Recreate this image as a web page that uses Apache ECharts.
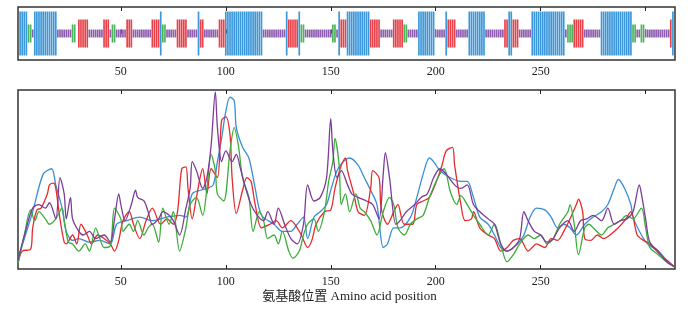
<!DOCTYPE html>
<html>
<head>
<meta charset="utf-8">
<script src="https://cdn.jsdelivr.net/npm/echarts@6/dist/echarts.min.js"></script>
<style>
  html, body { margin: 0; padding: 0; background: #fff; }
  #main { width: 699px; height: 315px; }
</style>
</head>
<body>
<div id="main"></div>
<script>
// 二级结构片段 [起始, 结束, 类型]  H=螺旋 E=折叠 T=转角 C=无规卷曲
const ssSegments = [
  [2, 5, 'H'], [6, 7, 'T'], [8, 8, 'C'], [9, 19, 'H'], [20, 26, 'C'], [27, 28, 'T'],
  [30, 34, 'E'], [35, 41, 'C'], [42, 44, 'E'], [45, 45, 'C'], [46, 47, 'T'], [48, 52, 'C'],
  [53, 55, 'E'], [56, 64, 'C'], [65, 68, 'E'], [69, 69, 'H'], [70, 71, 'T'], [72, 76, 'C'],
  [77, 81, 'E'], [82, 86, 'C'], [87, 87, 'H'], [88, 89, 'E'], [90, 96, 'C'], [97, 99, 'E'],
  [100, 117, 'H'], [118, 128, 'C'], [129, 129, 'H'], [130, 134, 'E'], [135, 135, 'H'],
  [136, 137, 'T'], [138, 150, 'C'], [151, 152, 'T'], [153, 153, 'C'], [154, 154, 'H'],
  [155, 157, 'E'], [158, 168, 'H'], [169, 173, 'E'], [174, 179, 'C'], [180, 184, 'E'],
  [185, 186, 'T'], [187, 191, 'C'], [192, 199, 'H'], [200, 204, 'C'], [205, 205, 'H'],
  [206, 209, 'E'], [210, 215, 'C'], [216, 223, 'H'], [224, 232, 'C'], [233, 234, 'E'],
  [235, 236, 'H'], [237, 239, 'E'], [240, 245, 'C'], [246, 261, 'H'], [262, 262, 'C'],
  [263, 265, 'T'], [266, 270, 'E'], [271, 278, 'C'], [279, 293, 'H'], [294, 295, 'T'],
  [296, 297, 'C'], [298, 299, 'T'], [300, 311, 'C'], [312, 312, 'E'], [313, 313, 'H']
];

// 刻度
const tickValues = [50, 100, 150, 200, 250, 300];
const labelValues = [50, 100, 150, 200, 250];

// 四条曲线 [氨基酸位置, 数值]
const blueLine = [[1,6],[8,32],[13,53],[17,56],[19,47],[22,34],[24,21],[27,16],[30,17],[35,15],[40,16],[45,14],[48,25],[53,27],[59,29],[65,27],[72,29],[78,30],[81,29],[84,42],[88,44],[91,45],[94,47],[96,60],[98,73],[100,88],[102,96],[104,94],[105,79],[108,68],[111,62],[114,45],[117,30],[123,25],[127,21],[131,21],[134,25],[137,29],[139,17],[142,29],[145,32],[148,36],[150,44],[153,55],[156,60],[159,62],[163,58],[166,51],[169,44],[172,36],[175,12],[177,14],[180,23],[183,23],[188,29],[191,40],[194,53],[197,62],[199,60],[202,55],[207,51],[212,49],[215,49],[218,40],[221,29],[225,25],[228,19],[231,12],[234,10],[239,14],[242,19],[245,29],[248,34],[252,33],[255,29],[258,23],[261,25],[264,23],[267,19],[271,25],[275,29],[279,32],[282,36],[285,45],[287,50],[290,45],[293,36],[294,29],[298,19],[301,14],[306,10],[310,5],[314,1]];
const redLine = [[1,3],[3,10],[7,11],[8,23],[10,33],[12,34],[15,42],[16,47],[18,48],[19,45],[21,28],[23,15],[24,14],[27,19],[29,14],[31,25],[34,19],[36,14],[39,19],[42,17],[45,14],[47,10],[49,16],[51,27],[54,32],[56,25],[59,17],[62,27],[65,34],[69,25],[72,28],[75,25],[77,32],[79,56],[81,57],[82,45],[84,28],[86,40],[89,56],[91,42],[93,56],[96,51],[98,83],[100,85],[102,75],[103,51],[105,31],[108,44],[110,51],[112,49],[114,36],[117,23],[121,25],[124,27],[127,23],[131,27],[134,23],[136,19],[139,12],[141,16],[143,25],[147,32],[150,33],[152,45],[155,58],[157,62],[158,55],[161,42],[163,32],[166,30],[169,45],[170,55],[173,51],[174,34],[177,25],[180,32],[182,36],[185,25],[189,25],[191,36],[194,38],[197,40],[201,51],[203,58],[205,66],[208,68],[209,58],[212,36],[214,27],[217,28],[218,32],[221,23],[225,19],[228,17],[231,10],[234,12],[237,16],[240,17],[244,10],[246,12],[248,14],[252,12],[255,17],[258,16],[261,21],[264,28],[267,36],[268,39],[270,32],[271,17],[274,16],[277,19],[280,17],[283,19],[287,23],[290,27],[293,32],[296,19],[299,16],[302,14],[307,8],[312,3],[314,1]];
const greenLine = [[1,3],[4,19],[7,33],[9,27],[11,32],[14,28],[16,25],[19,28],[22,34],[23,27],[25,15],[27,14],[30,10],[33,14],[35,10],[38,23],[40,17],[42,12],[45,13],[47,34],[50,28],[51,21],[54,25],[56,21],[58,27],[61,19],[63,23],[65,25],[68,15],[70,34],[73,25],[75,32],[78,10],[81,23],[83,36],[86,40],[89,30],[91,45],[93,64],[95,55],[96,42],[99,38],[102,66],[104,79],[106,69],[108,51],[111,40],[113,21],[116,32],[118,27],[120,17],[123,19],[125,14],[127,21],[130,10],[132,6],[135,10],[137,19],[139,25],[142,28],[144,21],[147,32],[149,49],[151,60],[152,73],[154,58],[155,36],[157,42],[159,32],[162,42],[164,34],[166,32],[169,27],[172,19],[175,32],[178,40],[180,36],[182,23],[185,19],[188,25],[191,28],[194,30],[197,40],[201,51],[204,56],[207,43],[210,36],[212,41],[215,36],[218,30],[221,25],[225,19],[228,25],[231,14],[234,4],[237,8],[240,14],[244,19],[247,17],[250,19],[253,14],[256,17],[259,25],[263,32],[264,36],[266,25],[268,8],[271,23],[273,25],[275,23],[279,19],[282,23],[285,25],[288,27],[291,30],[294,28],[298,34],[300,23],[302,12],[306,8],[310,4],[314,1]];
const purpleLine = [[1,5],[5,23],[8,34],[11,36],[14,34],[16,37],[19,28],[21,51],[23,42],[24,28],[26,40],[27,28],[30,21],[32,19],[35,21],[38,17],[42,19],[45,15],[47,28],[49,42],[50,36],[52,27],[55,36],[57,44],[58,40],[61,38],[63,32],[65,25],[68,28],[70,32],[73,30],[75,27],[78,19],[81,34],[83,45],[84,60],[86,55],[89,45],[91,51],[93,69],[95,99],[96,79],[98,60],[100,66],[103,60],[105,64],[107,56],[109,47],[112,36],[115,30],[118,27],[120,32],[123,25],[125,34],[128,25],[131,17],[134,14],[137,25],[139,47],[142,38],[145,40],[148,51],[150,84],[151,66],[153,51],[155,55],[158,47],[160,42],[163,40],[167,38],[170,36],[173,28],[175,53],[176,65],[178,51],[181,25],[183,27],[186,32],[190,36],[193,40],[196,42],[199,51],[202,56],[205,53],[209,47],[212,45],[215,47],[218,36],[221,32],[225,28],[228,25],[231,14],[234,10],[237,12],[240,17],[242,32],[244,27],[247,21],[250,19],[253,15],[256,17],[259,23],[263,27],[266,21],[269,27],[272,28],[275,30],[279,27],[282,34],[285,25],[288,27],[291,28],[294,32],[297,47],[298,42],[300,28],[302,15],[306,10],[310,4],[314,1]];

// 样式
const ssTypes = ['H', 'E', 'T', 'C'];
const ssColors = ['#3b97da', '#e8414a', '#4cb45a', '#8d5cae'];
const ssHalf = [0.83, 0.53, 0.34, 0.15];
const font = "'Liberation Serif', 'Noto Sans CJK SC', serif";

// 展开为逐个残基
const ssData = [];
ssSegments.forEach(([s, e, t]) => {
  for (let r = s; r <= e; r++) ssData.push([r, ssTypes.indexOf(t)]);
});

function xAxisPair(gridIndex, margin) {
  const base = {
    type: 'value', gridIndex, min: 1, max: 314,
    axisLine: { show: false }, splitLine: { show: false },
    axisTick: { inside: true, length: 4, lineStyle: { color: '#222', width: 1 }, customValues: tickValues },
  };
  return [
    { ...base, position: 'bottom',
      axisLabel: { customValues: labelValues, fontFamily: font, fontSize: 12, color: '#222', margin } },
    { ...base, position: 'top', axisLabel: { show: false } },
  ];
}

const option = {
  animation: false,
  grid: [
    { left: 18, right: 24, top: 7, height: 53, show: true, borderColor: '#333', borderWidth: 1.5 },
    { left: 18, right: 24, top: 90, height: 179, show: true, borderColor: '#333', borderWidth: 1.5 },
  ],
  xAxis: [...xAxisPair(0, 6), ...xAxisPair(1, 7)],
  yAxis: [
    { type: 'value', gridIndex: 0, min: -1, max: 1, show: false },
    { type: 'value', gridIndex: 1, min: 0, max: 100, show: false },
  ],
  graphic: [{
    type: 'text', left: 'center', top: 290,
    style: { text: '氨基酸位置 Amino acid position', font: '13px ' + font, fill: '#222' },
  }],
  series: [
    {
      type: 'custom', xAxisIndex: 0, yAxisIndex: 0, data: ssData,
      encode: { x: 0, y: 1 },
      renderItem(params, api) {
        const r = api.value(0), t = api.value(1);
        const c = api.coord([r, 0]);
        const w = api.size([1, 0])[0] * 0.8;
        const h = api.size([0, ssHalf[t]])[1];
        return { type: 'rect', shape: { x: c[0] - w / 2, y: c[1] - h, width: w, height: 2 * h }, style: { fill: ssColors[t] } };
      },
    },
    ...[[blueLine, '#3a8ed6'], [redLine, '#e52b2b'], [greenLine, '#3cad3c'], [purpleLine, '#7d3c98']].map(([d, c]) => ({
      type: 'line', xAxisIndex: 2, yAxisIndex: 1, data: d, symbol: 'none', smooth: 0.3,
      lineStyle: { color: c, width: 1.3 }, itemStyle: { color: c },
    })),
  ],
};

const myChart = echarts.init(document.getElementById('main'));
myChart.setOption(option);
</script>
</body>
</html>
